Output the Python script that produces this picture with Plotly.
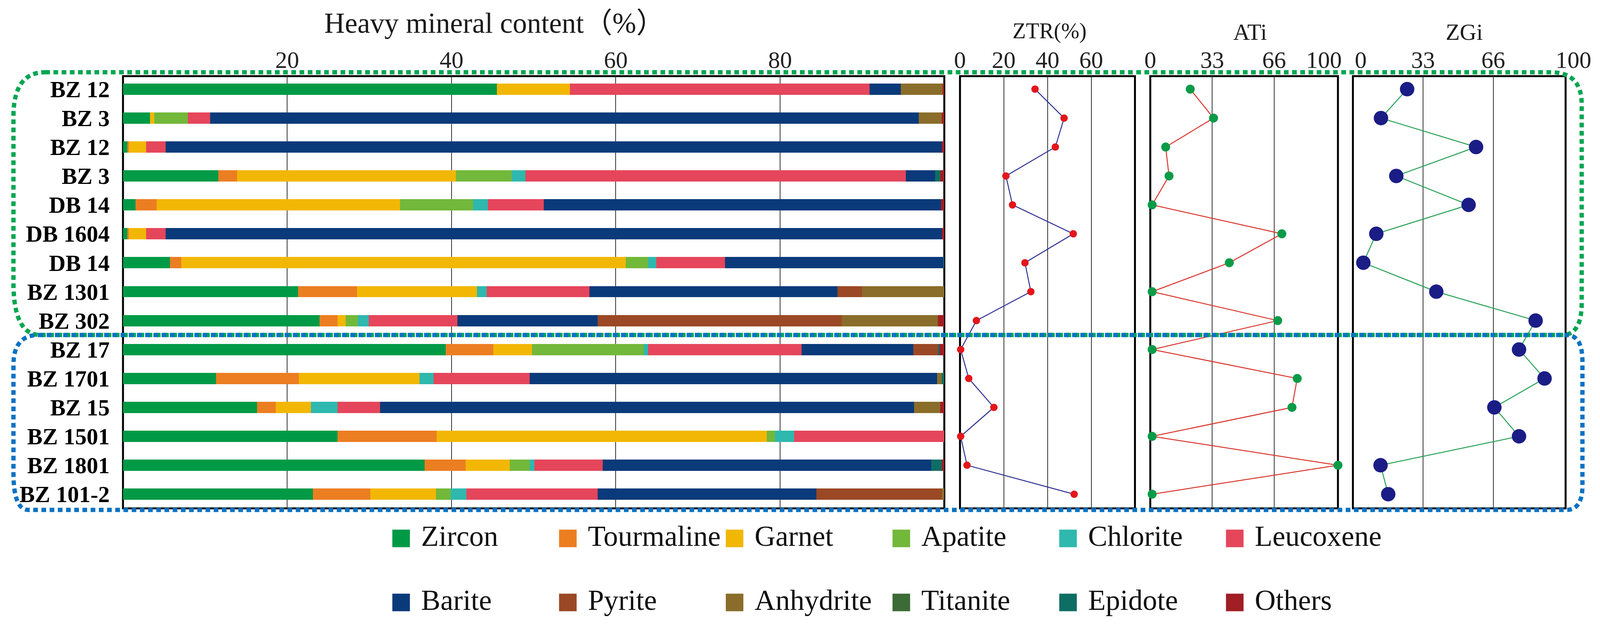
import plotly.graph_objects as go

# ---------------- data ----------------
samples = ["BZ 12", "BZ 3", "BZ 12", "BZ 3", "DB 14", "DB 1604", "DB 14", "BZ 1301",
           "BZ 302", "BZ 17", "BZ 1701", "BZ 15", "BZ 1501", "BZ 1801", "BZ 101-2"]

minerals = ["Zircon", "Tourmaline", "Garnet", "Apatite", "Chlorite", "Leucoxene",
            "Barite", "Pyrite", "Anhydrite", "Titanite", "Epidote", "Others"]
mineral_colors = ["#009A46", "#EC7E22", "#F2B705", "#72B83A", "#2EB8AE", "#E5465B",
                  "#0B3A7A", "#9A4825", "#8A6D2A", "#3B6C35", "#0E6E64", "#A01E24"]

zircon     = [45.5, 3.3, 0.5, 11.6, 1.5, 0.5, 5.7, 21.3, 23.9, 39.3, 11.3, 16.3, 26.1, 36.7, 23.1]
tourmaline = [0.0, 0.0, 0.2, 2.3, 2.6, 0.2, 1.4, 7.2, 2.2, 5.8, 10.1, 2.3, 12.1, 5.0, 7.0]
garnet     = [8.9, 0.5, 2.1, 26.6, 29.6, 2.1, 54.1, 14.6, 1.0, 4.7, 14.7, 4.3, 40.2, 5.4, 8.0]
apatite    = [0.0, 4.1, 0.0, 6.8, 8.9, 0.0, 2.7, 0.0, 1.5, 13.6, 0.0, 0.0, 1.0, 2.4, 1.8]
chlorite   = [0.0, 0.0, 0.0, 1.7, 1.8, 0.0, 1.0, 1.2, 1.3, 0.5, 1.7, 3.2, 2.3, 0.6, 1.9]
leucoxene  = [36.5, 2.7, 2.4, 46.3, 6.8, 2.4, 8.4, 12.5, 10.8, 18.7, 11.7, 5.2, 18.3, 8.3, 16.0]
barite     = [3.8, 86.3, 94.5, 3.6, 48.4, 94.5, 26.6, 30.2, 17.1, 13.6, 49.6, 65.0, 0.0, 40.0, 26.6]
pyrite     = [0.0, 0.0, 0.0, 0.0, 0.0, 0.0, 0.0, 3.0, 29.7, 3.0, 0.0, 0.0, 0.0, 0.0, 15.3]
anhydrite  = [5.1, 2.8, 0.0, 0.0, 0.0, 0.0, 0.0, 10.0, 11.7, 0.0, 0.6, 3.2, 0.0, 0.0, 0.3]
titanite   = [0.0, 0.0, 0.0, 0.0, 0.0, 0.0, 0.0, 0.0, 0.0, 0.0, 0.0, 0.0, 0.0, 0.0, 0.0]
epidote    = [0.0, 0.0, 0.0, 0.6, 0.0, 0.0, 0.1, 0.0, 0.0, 0.2, 0.3, 0.0, 0.0, 1.3, 0.0]
others     = [0.2, 0.3, 0.3, 0.5, 0.4, 0.3, 0.0, 0.0, 0.8, 0.6, 0.0, 0.5, 0.0, 0.3, 0.0]

series = [zircon, tourmaline, garnet, apatite, chlorite, leucoxene,
          barite, pyrite, anhydrite, titanite, epidote, others]

ztr = [34.3, 47.6, 43.6, 21.0, 24.0, 51.8, 29.7, 32.4, 7.5, 0.3, 4.0, 15.5, 0.3, 3.2, 52.2]
ati = [21.3, 33.7, 8.2, 10.0, 1.0, 70.1, 42.1, 1.0, 67.9, 1.0, 78.3, 75.5, 1.0, 100.0, 1.0]
zgi = [25.5, 13.2, 57.9, 20.4, 54.4, 11.0, 4.9, 39.2, 85.9, 78.1, 90.1, 66.5, 78.1, 13.0, 16.6]

main_ticks = [20, 40, 60, 80]
ztr_ticks = [0, 20, 40, 60]
ati_ticks = [0, 33, 66]          # "100" drawn on an overlay axis, nudged left
ati_end_ticks = [100]
zgi_ticks = [33, 66]             # "0" and "100" drawn on an overlay axis, nudged right
zgi_end_ticks = [0, 100]

# ---------------- geometry helpers ----------------
W, H = 4280, 1611
def px(x):
    return x / W
def py(y):
    return 1 - y / H

FONT = "Liberation Serif, Times New Roman, serif"
TICKFONT = dict(family=FONT, size=61, color="#222222")
rows = list(range(len(samples)))
y_range = [14.49, -0.45]
y_dom = [py(1302), py(195)]

fig = go.Figure()

# stacked bars
for name, vals, col in zip(minerals, series, mineral_colors):
    fig.add_trace(go.Bar(y=rows, x=vals, orientation="h", name=name,
                         marker=dict(color=col, line=dict(width=0)), width=0.39,
                         showlegend=False, xaxis="x", yaxis="y", hoverinfo="x+name"))

# ZTR
fig.add_trace(go.Scatter(x=ztr, y=rows, mode="lines+markers", xaxis="x2", yaxis="y2",
                         line=dict(color="#2E3192", width=2.5),
                         marker=dict(color="#E3161B", size=19), cliponaxis=False,
                         showlegend=False))
# ATi
fig.add_trace(go.Scatter(x=ati, y=rows, mode="lines+markers", xaxis="x3", yaxis="y3",
                         line=dict(color="#D9362E", width=2.5),
                         marker=dict(color="#0A9B48", size=23), cliponaxis=False,
                         showlegend=False))
# ZGi
fig.add_trace(go.Scatter(x=zgi, y=rows, mode="lines+markers", xaxis="x4", yaxis="y4",
                         line=dict(color="#27A155", width=2.5),
                         marker=dict(color="#1B1D86", size=37), cliponaxis=False,
                         showlegend=False))
# invisible carriers for the overlay label axes
fig.add_trace(go.Scatter(x=ati, y=rows, mode="lines", xaxis="x6", yaxis="y3",
                         line=dict(width=0), opacity=0, showlegend=False, hoverinfo="skip"))
fig.add_trace(go.Scatter(x=zgi, y=rows, mode="lines", xaxis="x7", yaxis="y4",
                         line=dict(width=0), opacity=0, showlegend=False, hoverinfo="skip"))

# legend (two rows of six)
leg_col = [i % 6 for i in range(len(minerals))]
leg_row = [i // 6 for i in range(len(minerals))]
fig.add_trace(go.Scatter(x=leg_col, y=leg_row, mode="markers", xaxis="x5", yaxis="y5",
                         marker=dict(symbol="square", size=45, color=mineral_colors,
                                     line=dict(width=0)),
                         showlegend=False, hoverinfo="skip"))
fig.add_trace(go.Scatter(x=[c + 0.12 for c in leg_col], y=leg_row, mode="text",
                         xaxis="x5", yaxis="y5", text=minerals, textposition="middle right",
                         textfont=dict(family=FONT, size=74, color="#111111"),
                         showlegend=False, hoverinfo="skip", cliponaxis=False))

axis_common = dict(showline=False, zeroline=False, ticks="", fixedrange=True,
                   automargin=False)
xcommon = dict(axis_common, side="top", showgrid=True, gridcolor="#333333", gridwidth=2,
               tickfont=TICKFONT, ticklabelstandoff=8)
ycommon = dict(axis_common, range=y_range, domain=y_dom, showgrid=False)
xoverlay = dict(axis_common, side="top", showgrid=False, tickfont=TICKFONT,
                ticklabelstandoff=8, range=[0, 100])

fig.update_layout(
    template="none",
    width=W, height=H, margin=dict(l=0, r=0, t=0, b=0, pad=0, autoexpand=False),
    paper_bgcolor="white", plot_bgcolor="rgba(0,0,0,0)", barmode="stack", bargap=0,
    showlegend=False,
    xaxis=dict(xcommon, domain=[px(329), px(2526)], range=[0, 100], tickvals=main_ticks,
               anchor="y"),
    yaxis=dict(ycommon, anchor="x", tickvals=rows, ticktext=samples,
               tickfont=dict(family=FONT, size=59, color="black", weight="bold"),
               ticklabelstandoff=33),
    xaxis2=dict(xcommon, domain=[px(2568), px(3036)], range=[0, 80], tickvals=ztr_ticks,
                anchor="y2"),
    yaxis2=dict(ycommon, anchor="x2", showticklabels=False),
    xaxis3=dict(xcommon, domain=[px(3077), px(3579)], range=[0, 100], tickvals=ati_ticks,
                anchor="y3"),
    yaxis3=dict(ycommon, anchor="x3", showticklabels=False),
    xaxis4=dict(xcommon, domain=[px(3619), px(4188)], range=[0, 100], tickvals=zgi_ticks,
                anchor="y4"),
    yaxis4=dict(ycommon, anchor="x4", showticklabels=False),
    xaxis6=dict(xoverlay, overlaying="x3", anchor="y3", tickvals=ati_end_ticks,
                ticklabelshift=-36),
    xaxis7=dict(xoverlay, overlaying="x4", anchor="y4", tickvals=zgi_end_ticks,
                ticklabelshift=20),
    xaxis5=dict(domain=[0, 1], range=[(0 - 1073) / 446, (W - 1073) / 446], visible=False,
                anchor="y5", fixedrange=True, automargin=False),
    yaxis5=dict(domain=[0, 1], range=[(H - 1379) / 164, (0 - 1379) / 164], visible=False,
                anchor="x5", fixedrange=True, automargin=False),
)

# panel frames (drawn on each subplot's domain, under the data)
for xa, ya in [("x", "y"), ("x2", "y2"), ("x3", "y3"), ("x4", "y4")]:
    fig.add_shape(type="rect", xref=f"{xa} domain", yref=f"{ya} domain",
                  x0=0, x1=1, y0=0, y1=1, layer="below",
                  line=dict(color="black", width=5), fillcolor="rgba(0,0,0,0)")

# titles
def title(text, x, y, size):
    fig.add_annotation(text=text, x=px(x), y=py(y), xref="paper", yref="paper",
                       showarrow=False, xanchor="center", yanchor="middle",
                       font=dict(family=FONT + ", Noto Sans CJK SC", size=size, color="#1a1a1a"))

title("Heavy mineral content（%）", 1323, 60, 73)
title("ZTR(%)", 2808, 80, 56)
title("ATi", 3344, 82, 59)
title("ZGi", 3917, 82, 59)

# dotted rounded outlines
def rrect(x0, y0, x1, y1, tl, tr, br, bl):
    p = f"M {px(x0 + tl[0])},{py(y0)} L {px(x1 - tr[0])},{py(y0)} "
    p += f"Q {px(x1)},{py(y0)} {px(x1)},{py(y0 + tr[1])} "
    p += f"L {px(x1)},{py(y1 - br[1])} Q {px(x1)},{py(y1)} {px(x1 - br[0])},{py(y1)} "
    p += f"L {px(x0 + bl[0])},{py(y1)} Q {px(x0)},{py(y1)} {px(x0)},{py(y1 - bl[1])} "
    p += f"L {px(x0)},{py(y0 + tl[1])} Q {px(x0)},{py(y0)} {px(x0 + tl[0])},{py(y0)} Z"
    return p

fig.add_shape(type="path", xref="paper", yref="paper", layer="above",
              path=rrect(36, 185, 4231, 858, (85, 113), (83, 82), (52, 82), (72, 134)),
              line=dict(color="#00A650", width=11, dash="12px,9px"))
fig.add_shape(type="path", xref="paper", yref="paper", layer="above",
              path=rrect(36, 858, 4233, 1306, (67, 77), (43, 67), (43, 62), (40, 95)),
              line=dict(color="#0A72C2", width=11, dash="12px,9px"))

# fit the figure to the browser viewport (the layout is expressed in paper fractions)
fit_js = """
document.body.style.margin = '0';
document.documentElement.style.overflow = 'hidden';
document.body.style.overflow = 'hidden';
var gd = document.getElementById('{plot_id}');
Plotly.relayout(gd, {width: window.innerWidth, height: window.innerHeight});
"""

fig.write_html("out.html", post_script=fit_js, config={"displayModeBar": False})
